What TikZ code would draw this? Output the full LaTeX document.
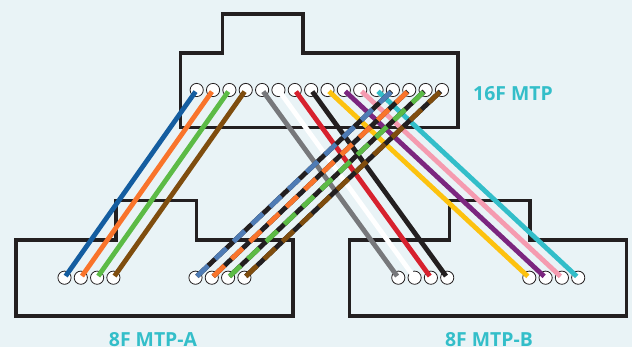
\documentclass[tikz,border=0pt]{standalone}
\usepackage{fontspec}
\setmainfont{Open Sans}
\usepackage{tikz}
\usetikzlibrary{positioning}
\definecolor{bgpanel}{HTML}{E9F3F6}
\definecolor{outline}{HTML}{231F20}
\definecolor{labelteal}{HTML}{33BEC9}
\definecolor{fibblue}{HTML}{145DA0}
\definecolor{fibblue2}{HTML}{4F7CB5}
\definecolor{fiborange}{HTML}{F9742B}
\definecolor{fibgreen}{HTML}{5CBB46}
\definecolor{fibbrown}{HTML}{7F4D0E}
\definecolor{fibgray}{HTML}{77787B}
\definecolor{fibred}{HTML}{D7212E}
\definecolor{fibyellow}{HTML}{FDC20F}
\definecolor{fibpurple}{HTML}{7B267F}
\definecolor{fibpink}{HTML}{F59BB0}

\begin{document}
\begin{tikzpicture}[
  x=1pt, y=-1pt,
  hole/.style={draw=outline, circle, fill=white, line width=0.8pt, minimum size=13.2pt, inner sep=0pt, outer sep=0pt},
  shell/.style={draw=outline, line width=3.6pt, miter limit=10},
  fib/.style={line width=4.8pt, shorten >=2pt, shorten <=2pt},
  fibdash/.style={fib, dash pattern=on 15.5pt off 9.7pt},
  lbl/.style={font=\bfseries\fontsize{19.4}{22}\selectfont, text=labelteal}
]
\fill[bgpanel] (0,0) rectangle (632,347);
% connector shells
\draw[shell] (180.5,53) -- (222.5,53) -- (222.5,14) -- (303,14) -- (303,53) -- (458,53) -- (458,127.5) -- (180.5,127.5) -- cycle;
\draw[shell] (16,240) -- (116,240) -- (116,200.5) -- (196.5,200.5) -- (196.5,240) -- (293,240) -- (293,316) -- (16,316) -- cycle;
\draw[shell] (349.5,240) -- (449.5,240) -- (449.5,200.5) -- (530,200.5) -- (530,240) -- (626.5,240) -- (626.5,316) -- (349.5,316) -- cycle;
% 16F ferrules
\node[hole] (t1) at (196.7,90) {};
\node[hole, right=3.15pt of t1] (t2) {};
\node[hole, right=3.15pt of t2] (t3) {};
\node[hole, right=3.15pt of t3] (t4) {};
\node[hole, right=3.15pt of t4] (t5) {};
\node[hole, right=3.15pt of t5] (t6) {};
\node[hole, right=3.15pt of t6] (t7) {};
\node[hole, right=3.15pt of t7] (t8) {};
\node[hole, right=3.15pt of t8] (t9) {};
\node[hole, right=3.15pt of t9] (t10) {};
\node[hole, right=3.15pt of t10] (t11) {};
\node[hole, right=3.15pt of t11] (t12) {};
\node[hole, right=3.15pt of t12] (t13) {};
\node[hole, right=3.15pt of t13] (t14) {};
\node[hole, right=3.15pt of t14] (t15) {};
\node[hole, right=3.15pt of t15] (t16) {};
% 8F ferrules, side A
\node[hole] (a1) at (64.5,277.7) {};
\node[hole, right=3.1pt of a1] (a2) {};
\node[hole, right=3.1pt of a2] (a3) {};
\node[hole, right=3.1pt of a3] (a4) {};
\node[hole] (a5) at (195.5,277.7) {};
\node[hole, right=3.1pt of a5] (a6) {};
\node[hole, right=3.1pt of a6] (a7) {};
\node[hole, right=3.1pt of a7] (a8) {};
% 8F ferrules, side B
\node[hole] (b1) at (398.3,277.7) {};
\node[hole, right=3.1pt of b1] (b2) {};
\node[hole, right=3.1pt of b2] (b3) {};
\node[hole, right=3.1pt of b3] (b4) {};
\node[hole] (b5) at (529.3,277.7) {};
\node[hole, right=3.1pt of b5] (b6) {};
\node[hole, right=3.1pt of b6] (b7) {};
\node[hole, right=3.1pt of b7] (b8) {};
% fibers to side B
\draw[fib, fibgray] (t5.center) -- (b1.center);
\draw[fib, white] (t6.center) -- (b2.center);
\draw[fib, fibred] (t7.center) -- (b3.center);
\draw[fib, outline] (t8.center) -- (b4.center);
\draw[fib, fibyellow] (t9.center) -- (b5.center);
\draw[fib, fibpurple] (t10.center) -- (b6.center);
\draw[fib, fibpink] (t11.center) -- (b7.center);
\draw[fib, labelteal] (t12.center) -- (b8.center);
% fibers to side A
\draw[fib, fibblue] (t1.center) -- (a1.center);
\draw[fib, fiborange] (t2.center) -- (a2.center);
\draw[fib, fibgreen] (t3.center) -- (a3.center);
\draw[fib, fibbrown] (t4.center) -- (a4.center);
\draw[fib, outline] (t13.center) -- (a5.center);
\draw[fibdash, fibblue2] (a5.center) -- (t13.center);
\draw[fib, outline] (t14.center) -- (a6.center);
\draw[fibdash, fiborange] (a6.center) -- (t14.center);
\draw[fib, outline] (t15.center) -- (a7.center);
\draw[fibdash, fibgreen] (a7.center) -- (t15.center);
\draw[fib, outline] (t16.center) -- (a8.center);
\draw[fibdash, fibbrown] (a8.center) -- (t16.center);
% labels
\node[lbl] (toplabel) at (513,94) {16F MTP};
\node[lbl] (alabel) at (153,340) {8F MTP-A};
\node[lbl] (blabel) at (489,340) {8F MTP-B};
\end{tikzpicture}
\end{document}
